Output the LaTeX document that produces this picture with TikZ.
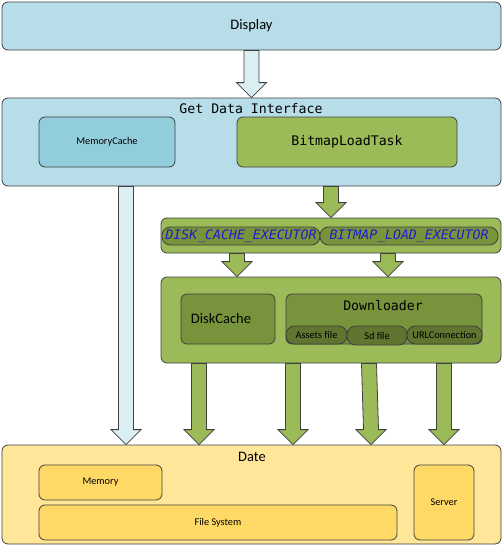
\documentclass[tikz,border=0pt]{standalone}
\usepackage{fontspec}
\setmainfont{Carlito}
\setmonofont{DejaVu Sans Mono}
\usepackage{tikz}
\usetikzlibrary{positioning, calc}
\definecolor{SkyFill}{RGB}{183,221,232}
\definecolor{CacheFill}{RGB}{146,205,220}
\definecolor{PaleFill}{RGB}{218,238,243}
\definecolor{LeafFill}{RGB}{155,187,89}
\definecolor{MossFill}{RGB}{119,147,60}
\definecolor{BarkFill}{RGB}{95,117,48}
\definecolor{SandFill}{RGB}{255,230,153}
\definecolor{GoldFill}{RGB}{255,217,102}
\definecolor{ExecText}{RGB}{30,30,200}
\tikzset{Layer/.style={draw=black!75, line width=.8pt, rounded corners=6pt, inner sep=0pt}}
\tikzset{Size/.style 2 args={minimum width=#1pt, minimum height=#2pt}}
\tikzset{Pill/.style={Layer, rounded corners=8.5pt}}
\tikzset{Big/.style={font=\fontsize{14.5}{17}\selectfont}}
\tikzset{Small/.style={font=\fontsize{10.3}{12}\selectfont}}
\tikzset{Code/.style={font=\ttfamily\fontsize{13.2}{15}\selectfont}}
\tikzset{Exec/.style={font=\ttfamily\itshape\fontsize{13.2}{15}\selectfont, text=ExecText}}
\tikzset{Fat Edge/.style={draw=black!75, line width=.8pt, line join=miter}}
\tikzset{Pale Edge/.style={Fat Edge, fill=PaleFill}}
\tikzset{Leaf Edge/.style={Fat Edge, fill=LeafFill}}
\newcommand{\fatarrow}[3]{%
  \draw[#1] let \p1=(#2), \p2=(#3) in
    (\x1-7.5pt,\y1) -- (\x2-7.5pt,\y2+15pt) -- (\x2-15pt,\y2+15pt) -- (\x2,\y2)
    -- (\x2+15pt,\y2+15pt) -- (\x2+7.5pt,\y2+15pt) -- (\x1+7.5pt,\y1) -- cycle;}

\begin{document}
\begin{tikzpicture}[x=1pt, y=-1pt]
\useasboundingbox (0,0) rectangle (503,546);

% layers
\node[Layer, Size={499}{48}, fill=SkyFill, Big] (display) at (251.5,26) {Display};
\node[Layer, Size={499}{88}, fill=SkyFill] (gdi) at (251.5,142) {};
\node[Code] (gdititle) at (251,109) {Get Data Interface};
\node[Layer, Size={136}{50}, fill=CacheFill, Small] (memcache) at (107,142) {MemoryCache};
\node[Layer, Size={220}{50}, fill=LeafFill, Code] (task) at (347,142) {BitmapLoadTask};

\node[Layer, Size={340}{35}, fill=LeafFill] (exec) at (331,235.5) {};
\node[Pill, Size={158}{18}, fill=MossFill, Exec] (diskexec) at (241,236) {DISK\_CACHE\_EXECUTOR};
\node[Pill, Size={178}{18}, fill=MossFill, Exec] (loadexec) at (409,236) {BITMAP\_LOAD\_EXECUTOR};

\node[Layer, Size={340}{86}, fill=LeafFill] (loader) at (331,320) {};
\node[Layer, Size={94}{50}, fill=MossFill, Big] (diskcache) at (228,319) {DiskCache\hspace*{14pt}};
\node[Layer, Size={196}{50}, fill=MossFill] (down) at (384,319) {};
\node[Code] (downtitle) at (383,306) {Downloader};
\node[Pill, Size={61}{18}, fill=BarkFill, Small] (assets) at (316.5,335) {Assets file};
\node[Pill, Size={60}{19}, fill=BarkFill, Small] (sd) at (377,335.5) {Sd file};
\node[Pill, Size={75}{18}, fill=BarkFill, Small] (url) at (444.5,335) {URLConnection};

\node[Layer, Size={499}{99}, fill=SandFill] (date) at (251.5,494.5) {};
\node[Big] (datetitle) at (252,457) {Date};
\node[Layer, Size={123}{35}, fill=GoldFill, Small] (memory) at (100.5,482.5) {Memory};
\node[Layer, Size={358}{35}, fill=GoldFill, Small] (fs) at (218,522.5) {File System};
\node[Layer, Size={60}{75}, fill=GoldFill, Small] (server) at (444,502.5) {Server};

% arrow columns
\coordinate (c1) at (126,0);
\coordinate (c2) at (237,0);
\coordinate (c3) at (388,0);
\coordinate (c4) at (199,0);
\coordinate (c5) at (293,0);
\coordinate (c6) at (369,0);
\coordinate (c6tip) at (371,0);
\coordinate (c7) at (444,0);

\fatarrow{Pale Edge}{display.south}{gdi.north}
\fatarrow{Pale Edge}{gdi.south -| c1}{date.north -| c1}
\fatarrow{Leaf Edge}{gdi.south -| exec.north}{exec.north}
\fatarrow{Leaf Edge}{exec.south -| c2}{loader.north -| c2}
\fatarrow{Leaf Edge}{exec.south -| c3}{loader.north -| c3}
\fatarrow{Leaf Edge}{loader.south -| c4}{date.north -| c4}
\fatarrow{Leaf Edge}{loader.south -| c5}{date.north -| c5}
\fatarrow{Leaf Edge}{loader.south -| c6}{date.north -| c6tip}
\fatarrow{Leaf Edge}{loader.south -| c7}{date.north -| c7}
\end{tikzpicture}
\end{document}
